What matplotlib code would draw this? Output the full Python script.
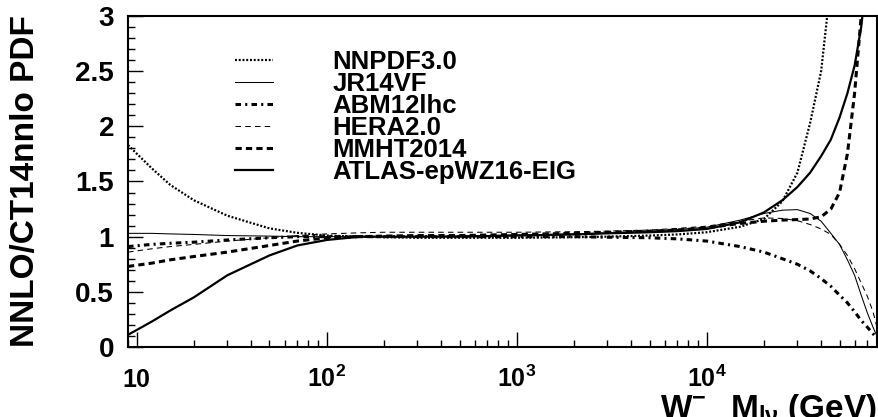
import numpy as np
import matplotlib
matplotlib.use('Agg')
import matplotlib.pyplot as plt
from matplotlib.ticker import FixedLocator, FixedFormatter, LogLocator, NullFormatter, MultipleLocator

plt.rcParams['font.family'] = ['Liberation Sans', 'DejaVu Sans']
plt.rcParams['font.weight'] = 'bold'
plt.rcParams['mathtext.fontset'] = 'custom'
plt.rcParams['mathtext.rm'] = 'Liberation Sans:bold'
plt.rcParams['mathtext.it'] = 'Liberation Sans:bold'
plt.rcParams['mathtext.bf'] = 'Liberation Sans:bold'
plt.rcParams['lines.scale_dashes'] = False

# W- invariant mass (GeV)
mass = [9, 12, 15, 20, 30, 50, 70, 100, 150, 200, 300, 500, 1000, 2000, 3000,
        5000, 7000, 10000, 15000, 20000, 25000, 30000, 35000, 40000, 45000,
        50000, 55000, 60000, 65000, 70000, 75000, 80000]

# ratios to CT14nnlo
nnpdf = [1.83, 1.62, 1.47, 1.33, 1.19, 1.075, 1.035, 1.01, 1.0, 0.995, 0.99, 0.99,
         0.99, 0.995, 1.0, 1.01, 1.02, 1.04, 1.09, 1.16, 1.32, 1.58, 2.03, 2.5,
         3.3, 4.2, 5.2, 6.3, 7.5, 8.8, 10.0, 11.0]
jr14 = [1.03, 1.03, 1.025, 1.02, 1.01, 1.005, 1.0, 1.0, 1.0, 1.0, 1.0, 1.005,
        1.015, 1.025, 1.035, 1.05, 1.065, 1.085, 1.15, 1.21, 1.24, 1.245, 1.21,
        1.14, 1.03, 0.93, 0.79, 0.65, 0.47, 0.31, 0.18, 0.07]
abm = [0.91, 0.93, 0.94, 0.95, 0.97, 0.99, 1.0, 1.0, 1.0, 1.0, 1.0, 1.0, 1.0,
       1.0, 0.995, 0.99, 0.98, 0.96, 0.91, 0.86, 0.80, 0.75, 0.69, 0.62, 0.55,
       0.47, 0.40, 0.32, 0.24, 0.18, 0.12, 0.07]
hera = [0.86, 0.89, 0.91, 0.93, 0.96, 0.99, 1.01, 1.025, 1.035, 1.04, 1.04, 1.04,
        1.04, 1.045, 1.05, 1.06, 1.075, 1.095, 1.14, 1.17, 1.165, 1.145, 1.11,
        1.07, 1.02, 0.93, 0.83, 0.71, 0.58, 0.46, 0.32, 0.13]
mmht = [0.73, 0.76, 0.79, 0.82, 0.86, 0.92, 0.96, 0.99, 1.0, 1.005, 1.01, 1.01,
        1.02, 1.03, 1.04, 1.05, 1.06, 1.08, 1.12, 1.14, 1.15, 1.155, 1.16, 1.18,
        1.25, 1.40, 1.75, 2.3, 3.0, 3.7, 4.4, 5.0]
atlas = [0.11, 0.23, 0.33, 0.45, 0.65, 0.83, 0.92, 0.97, 1.0, 1.0, 1.0, 1.0, 1.01,
         1.02, 1.03, 1.04, 1.05, 1.07, 1.13, 1.22, 1.33, 1.45, 1.58, 1.73, 1.88,
         2.08, 2.30, 2.55, 2.90, 3.4, 3.9, 4.4]

xtick_vals = [10, 100, 1000, 10000]
xtick_labels = ['10', '$10^{2}$', '$10^{3}$', '$10^{4}$']
ytick_vals = [0, 0.5, 1, 1.5, 2, 2.5, 3]
ytick_labels = ['0', '0.5', '1', '1.5', '2', '2.5', '3']

fig = plt.figure(figsize=(8.79, 4.17), dpi=100)
ax = fig.add_axes([0.1456, 0.1679, 0.8521, 0.7937])

ax.plot(mass, nnpdf, color='black', lw=1.6, dashes=(1.4, 1.3), label='NNPDF3.0')
ax.plot(mass, jr14, color='black', lw=0.75, label='JR14VF')
ax.plot(mass, abm, color='black', lw=2.2, dashes=(4, 3, 1.5, 3), label='ABM12lhc')
ax.plot(mass, hera, color='black', lw=0.75, dashes=(4, 3), label='HERA2.0')
ax.plot(mass, mmht, color='black', lw=2.2, dashes=(4.5, 3), label='MMHT2014')
ax.plot(mass, atlas, color='black', lw=1.6, label='ATLAS-epWZ16-EIG')

ax.set_xscale('log')
ax.set_xlim(9, 7.87e4)
ax.set_ylim(0, 3)

ax.xaxis.set_major_locator(FixedLocator(xtick_vals))
ax.xaxis.set_major_formatter(FixedFormatter(xtick_labels))
ax.xaxis.set_minor_locator(LogLocator(base=10, subs=np.arange(2, 10)))
ax.xaxis.set_minor_formatter(NullFormatter())
ax.yaxis.set_major_locator(FixedLocator(ytick_vals))
ax.yaxis.set_major_formatter(FixedFormatter(ytick_labels))
ax.yaxis.set_minor_locator(MultipleLocator(0.1))

ax.tick_params(which='both', direction='in', top=False, right=False, width=1)
ax.tick_params(which='major', length=10.8)
ax.tick_params(which='minor', length=5)
ax.tick_params(axis='y', labelsize=20, pad=10)
ax.tick_params(axis='x', labelsize=18, pad=29)
for lbl in ax.get_xticklabels():
    lbl.set_verticalalignment('baseline')

for s in ax.spines.values():
    s.set_linewidth(1.5)

ax.text(-0.137, 0.5, 'NNLO/CT14nnlo PDF', transform=ax.transAxes, rotation=90,
        ha='center', va='center', fontsize=24, fontweight='bold')
# axis title sits low, partly below the figure edge as in the original
ax.text(0.7103, -0.215, 'W$^{-}$', transform=ax.transAxes, ha='left',
        va='baseline', fontsize=24, fontweight='bold')
ax.text(1.0, -0.215, r'M$_{l\nu}$ (GeV)', transform=ax.transAxes, ha='right',
        va='baseline', fontsize=24, fontweight='bold')

ax.legend(loc='upper left', bbox_to_anchor=(0.143, 0.897), frameon=False,
          fontsize=18.5, handlelength=1.48, handletextpad=2.3,
          labelspacing=-0.08, borderpad=0, borderaxespad=0)

fig.savefig('out.png', dpi=100)
